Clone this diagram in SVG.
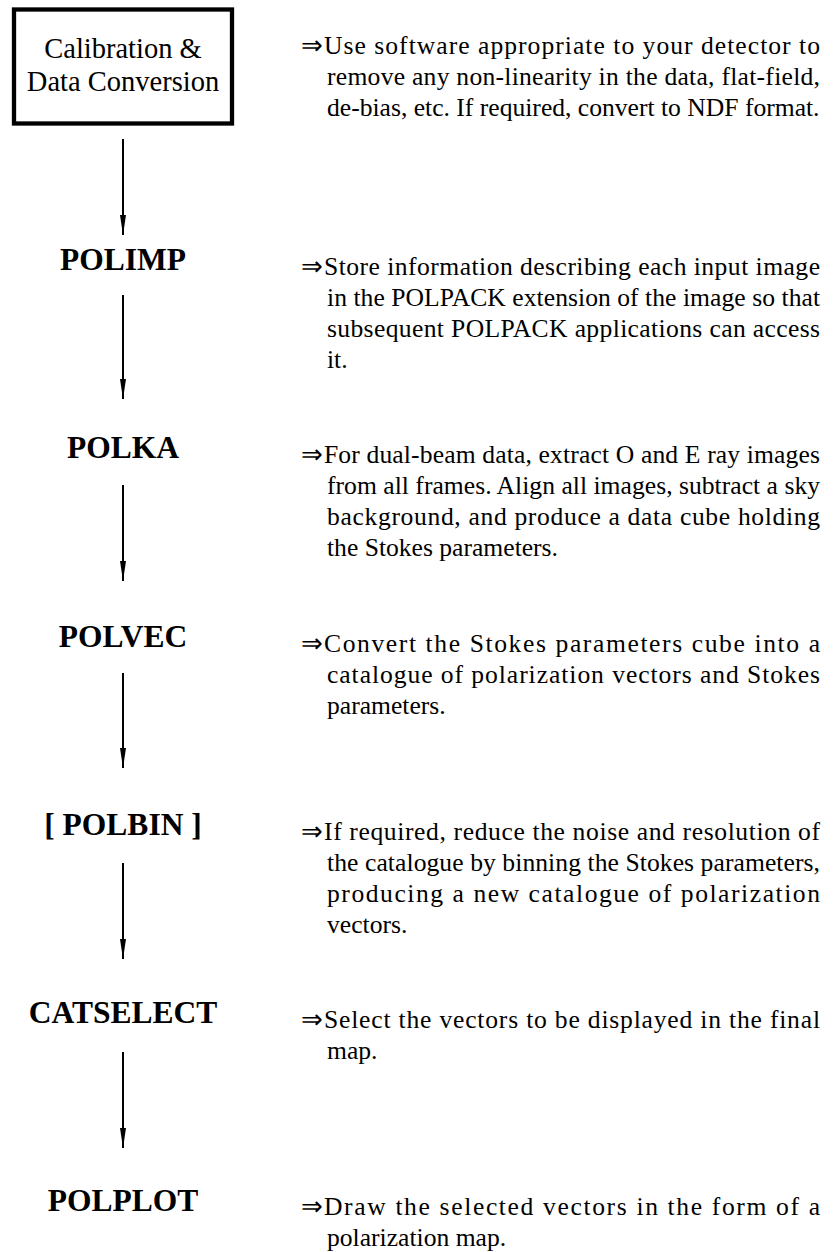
<svg xmlns="http://www.w3.org/2000/svg" width="833" height="1252" viewBox="0 0 833 1252">
<style>
text{font-family:"Liberation Serif","Times New Roman",serif;fill:#000}
.box{fill:none;stroke:#000;stroke-width:4.3}
.boxt{font-size:28.5px;text-anchor:middle}
.lab{font-size:31.5px;font-weight:bold;text-anchor:middle}
.d{font-size:25.6px}
.conn line{stroke:#000;stroke-width:2;marker-end:url(#ah)}
</style>
<defs>
<marker id="ah" markerUnits="userSpaceOnUse" viewBox="0 0 20 6" refX="20" refY="3" markerWidth="20" markerHeight="6" orient="auto">
<path d="M0,0 L20,3 L0,6 Z" fill="#000"/>
</marker>
</defs>
<g id="node-calibration">
<rect class="box" x="14" y="9.5" width="218" height="114"/>
<text class="boxt" x="123" y="58">Calibration &amp;</text>
<text class="boxt" x="123" y="91">Data Conversion</text>
</g>
<g id="desc-calibration" class="d">
<text y="54"><tspan x="301">⇒</tspan><tspan x="324" textLength="496" lengthAdjust="spacing">Use software appropriate to your detector to</tspan></text>
<text x="327" y="85" textLength="493" lengthAdjust="spacing">remove any non-linearity in the data, flat-field,</text>
<text x="327" y="116">de-bias, etc. If required, convert to NDF format.</text>
</g>
<g id="node-polimp"><text class="lab" x="123" y="270">POLIMP</text></g>
<g id="desc-polimp" class="d">
<text y="275"><tspan x="301">⇒</tspan><tspan x="324" textLength="496" lengthAdjust="spacing">Store information describing each input image</tspan></text>
<text x="327" y="306" textLength="493" lengthAdjust="spacing">in the POLPACK extension of the image so that</text>
<text x="327" y="337" textLength="493" lengthAdjust="spacing">subsequent POLPACK applications can access</text>
<text x="327" y="368">it.</text>
</g>
<g id="node-polka"><text class="lab" x="123" y="458">POLKA</text></g>
<g id="desc-polka" class="d">
<text y="463"><tspan x="301">⇒</tspan><tspan x="324" textLength="496" lengthAdjust="spacing">For dual-beam data, extract O and E ray images</tspan></text>
<text x="327" y="494" textLength="493" lengthAdjust="spacing">from all frames. Align all images, subtract a sky</text>
<text x="327" y="525" textLength="493" lengthAdjust="spacing">background, and produce a data cube holding</text>
<text x="327" y="556">the Stokes parameters.</text>
</g>
<g id="node-polvec"><text class="lab" x="123" y="647">POLVEC</text></g>
<g id="desc-polvec" class="d">
<text y="652"><tspan x="301">⇒</tspan><tspan x="324" textLength="496" lengthAdjust="spacing">Convert the Stokes parameters cube into a</tspan></text>
<text x="327" y="683" textLength="493" lengthAdjust="spacing">catalogue of polarization vectors and Stokes</text>
<text x="327" y="714">parameters.</text>
</g>
<g id="node-polbin"><text class="lab" x="123" y="835">[ POLBIN ]</text></g>
<g id="desc-polbin" class="d">
<text y="840"><tspan x="301">⇒</tspan><tspan x="324" textLength="496" lengthAdjust="spacing">If required, reduce the noise and resolution of</tspan></text>
<text x="327" y="871" textLength="493" lengthAdjust="spacing">the catalogue by binning the Stokes parameters,</text>
<text x="327" y="902" textLength="493" lengthAdjust="spacing">producing a new catalogue of polarization</text>
<text x="327" y="933">vectors.</text>
</g>
<g id="node-catselect"><text class="lab" x="123" y="1023">CATSELECT</text></g>
<g id="desc-catselect" class="d">
<text y="1028"><tspan x="301">⇒</tspan><tspan x="324" textLength="496" lengthAdjust="spacing">Select the vectors to be displayed in the final</tspan></text>
<text x="327" y="1059">map.</text>
</g>
<g id="node-polplot"><text class="lab" x="123" y="1211">POLPLOT</text></g>
<g id="desc-polplot" class="d">
<text y="1215"><tspan x="301">⇒</tspan><tspan x="324" textLength="496" lengthAdjust="spacing">Draw the selected vectors in the form of a</tspan></text>
<text x="327" y="1246">polarization map.</text>
</g>
<g id="connectors" class="conn">
<line x1="123" y1="139" x2="123" y2="235"/>
<line x1="123" y1="295" x2="123" y2="399"/>
<line x1="123" y1="485" x2="123" y2="581"/>
<line x1="123" y1="673" x2="123" y2="768"/>
<line x1="123" y1="863" x2="123" y2="959"/>
<line x1="123" y1="1052" x2="123" y2="1148"/>
</g>
</svg>
